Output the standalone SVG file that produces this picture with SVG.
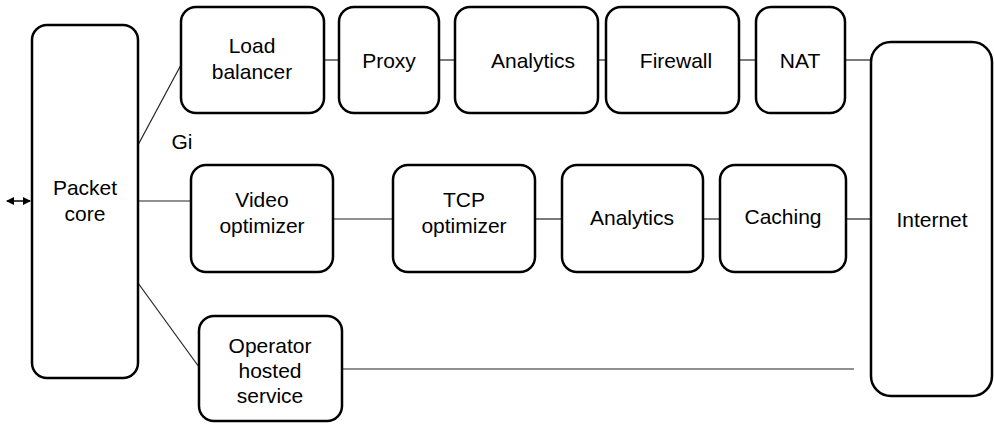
<svg xmlns="http://www.w3.org/2000/svg" width="994" height="424" viewBox="0 0 994 424">
<style>
.box{fill:#fff;stroke:#000;stroke-width:2.5}
.ln{stroke:#222;stroke-width:1.2;fill:none}
text{font-family:"Liberation Sans",Arial,sans-serif;font-size:21px;fill:#000;text-anchor:middle}
</style>
<defs>
<marker id="ah" markerWidth="8" markerHeight="8" refX="7" refY="4" orient="auto-start-reverse" markerUnits="userSpaceOnUse">
<path d="M0,0 L8,4 L0,8 Z" fill="#000"/>
</marker>
</defs>
<g id="connectors">
<line class="ln" x1="138" y1="145" x2="182" y2="63"/>
<line class="ln" x1="138" y1="201" x2="191" y2="201"/>
<line class="ln" x1="138" y1="283" x2="199" y2="367"/>
<line class="ln" x1="324" y1="60" x2="339" y2="60"/>
<line class="ln" x1="439" y1="60" x2="455" y2="60"/>
<line class="ln" x1="598" y1="60" x2="606" y2="60"/>
<line class="ln" x1="739" y1="60" x2="756" y2="60"/>
<line class="ln" x1="845" y1="60" x2="871" y2="60"/>
<line class="ln" x1="333" y1="219" x2="393" y2="219"/>
<line class="ln" x1="535" y1="219" x2="562" y2="219"/>
<line class="ln" x1="703" y1="219" x2="720" y2="219"/>
<line class="ln" x1="846" y1="219" x2="871" y2="219"/>
<line class="ln" x1="342" y1="369" x2="854" y2="369"/>
<line stroke="#000" stroke-width="1.5" x1="7" y1="201" x2="30" y2="201" marker-start="url(#ah)" marker-end="url(#ah)"/>
<text x="182" y="149" font-size="20">Gi</text>
</g>
<g id="packet-core"><rect class="box" x="32" y="25" width="106" height="353" rx="15"/><text x="85" y="195">Packet</text><text x="85" y="221">core</text></g>
<g id="load-balancer"><rect class="box" x="181" y="7" width="143" height="106" rx="15"/><text x="252" y="53">Load</text><text x="252" y="79">balancer</text></g>
<g id="proxy"><rect class="box" x="339" y="7" width="100" height="106" rx="15"/><text x="389" y="68">Proxy</text></g>
<g id="analytics-1"><rect class="box" x="455" y="7" width="143" height="106" rx="15"/><text x="533" y="68">Analytics</text></g>
<g id="firewall"><rect class="box" x="606" y="7" width="133" height="106" rx="15"/><text x="676" y="68">Firewall</text></g>
<g id="nat"><rect class="box" x="756" y="7" width="89" height="106" rx="15"/><text x="800" y="68">NAT</text></g>
<g id="internet"><rect class="box" x="871" y="42" width="121" height="354" rx="20"/><text x="932" y="227">Internet</text></g>
<g id="video-optimizer"><rect class="box" x="191" y="165" width="142" height="107" rx="15"/><text x="262" y="207">Video</text><text x="262" y="233">optimizer</text></g>
<g id="tcp-optimizer"><rect class="box" x="393" y="165" width="142" height="107" rx="15"/><text x="464" y="207">TCP</text><text x="464" y="233">optimizer</text></g>
<g id="analytics-2"><rect class="box" x="562" y="165" width="141" height="107" rx="15"/><text x="632" y="225">Analytics</text></g>
<g id="caching"><rect class="box" x="720" y="165" width="126" height="107" rx="15"/><text x="783" y="224">Caching</text></g>
<g id="operator-hosted-service"><rect class="box" x="199" y="316" width="143" height="105" rx="15"/><text x="270" y="353">Operator</text><text x="270" y="378">hosted</text><text x="270" y="403">service</text></g>
</svg>
